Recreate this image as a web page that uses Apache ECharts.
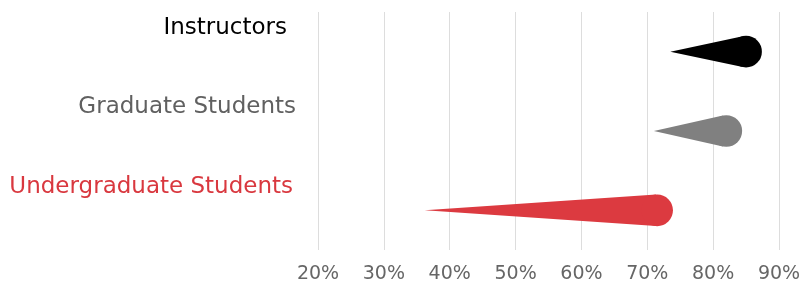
<!DOCTYPE html>
<html>
<head>
<meta charset="utf-8">
<script src="https://cdn.jsdelivr.net/npm/echarts@6/dist/echarts.min.js"></script>
<style>
  html, body { margin: 0; padding: 0; background: #fff; }
  #main { width: 809px; height: 284px; }
</style>
</head>
<body>
<div id="main"></div>
<script>
var groups = ['Instructors', 'Graduate Students', 'Undergraduate Students'];
var startValues = [73.5, 71, 36.2];   // tail tip (%)
var endValues = [85, 82, 71.5];       // round head (%)
var xTicks = [20, 30, 40, 50, 60, 70, 80, 90];

var colors = ['#000000', '#808080', '#dc3a40'];
var labelColors = ['#000000', '#606060', '#d9383f'];
var labelKeys = ['ins', 'grad', 'ug'];

var chart = echarts.init(document.getElementById('main'));

var cometData = [];
for (var i = 0; i < groups.length; i++) {
    cometData.push([i, startValues[i], endValues[i]]);
}

function renderComet(params, api) {
    var idx = api.value(0);
    var tip = api.coord([api.value(1), idx]);
    var head = api.coord([api.value(2), idx]);
    var r = 15.8;
    var d = head[0] - tip[0];
    // tangent points from the tip to the head circle
    var ca = r / d;
    var sa = Math.sqrt(1 - ca * ca);
    var tx = head[0] - r * ca;
    var color = colors[idx];
    return {
        type: 'group',
        children: [
            {
                type: 'polygon',
                shape: { points: [tip, [tx, head[1] - r * sa], [tx, head[1] + r * sa]] },
                style: { fill: color }
            },
            {
                type: 'circle',
                shape: { cx: head[0], cy: head[1], r: r },
                style: { fill: color }
            }
        ]
    };
}

var option = {
    backgroundColor: '#ffffff',
    animation: false,
    grid: { left: 318, right: 30, top: 12, bottom: 32 },
    xAxis: {
        type: 'value',
        min: xTicks[0],
        max: xTicks[xTicks.length - 1],
        interval: 10,
        axisLine: { show: false },
        axisTick: { show: false },
        splitLine: { show: true, lineStyle: { color: '#dddddd', width: 1 } },
        axisLabel: {
            formatter: '{value}%',
            fontFamily: 'DejaVu Sans',
            fontSize: 19,
            color: '#666666',
            margin: 15
        }
    },
    yAxis: {
        type: 'category',
        inverse: true,
        data: groups,
        axisLine: { show: false },
        axisTick: { show: false },
        splitLine: { show: false },
        axisLabel: {
            margin: 22,
            padding: [0, 0, 47, 0],
            formatter: function (v, i) {
                return '{' + labelKeys[i] + '|' + v + '}';
            },
            rich: {
                ins: { fontFamily: 'DejaVu Sans', fontSize: 23, color: labelColors[0], padding: [0, 9, 0, 0] },
                grad: { fontFamily: 'DejaVu Sans', fontSize: 23, color: labelColors[1] },
                ug: { fontFamily: 'DejaVu Sans', fontSize: 23, color: labelColors[2], padding: [0, 3, 0, 0] }
            }
        }
    },
    series: [
        {
            type: 'custom',
            renderItem: renderComet,
            encode: { x: [1, 2], y: 0 },
            data: cometData
        }
    ]
};
chart.setOption(option);
</script>
</body>
</html>
